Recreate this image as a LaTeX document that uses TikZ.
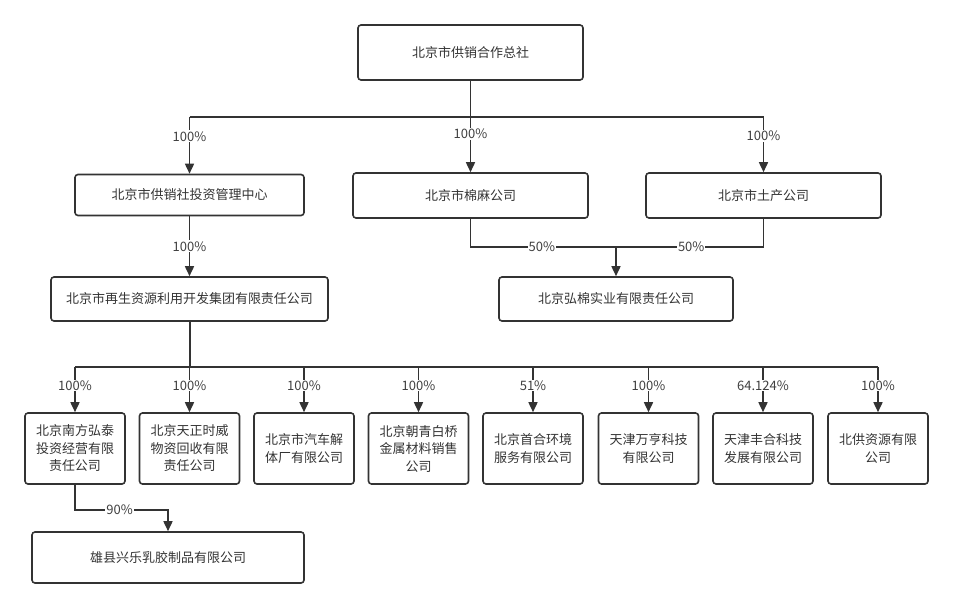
\documentclass[tikz,border=0pt]{standalone}
\usepackage{fontspec}
\setmainfont{Noto Sans CJK SC}
\usetikzlibrary{arrows.meta, positioning}

\begin{document}
\begin{tikzpicture}[x=1pt, y=-1pt,
    firm/.style={draw=black!80, line width=1.6pt, rounded corners=3pt, align=center,
        text=black!80, inner sep=0pt, font=\fontsize{13}{17.5}\selectfont},
    share/.style={fill=white, inner sep=1pt, text=black!75, font=\fontsize{13}{15}\selectfont},
    wire/.style={draw=black!80, line width=1.6pt},
    own/.style={wire, -{Triangle[length=10pt, width=9pt]}}
    ]
    \useasboundingbox (0,0) rectangle (953,608);

    \node[firm, minimum width=225pt, minimum height=55pt] (zongshe) at (470.5,52.5) {北京市供销合作总社};
    \node[firm, minimum width=229pt, minimum height=41pt] (touzi) at (189.5,195) {北京市供销社投资管理中心};
    \node[firm, minimum width=235pt, minimum height=45pt] (mianma) at (470.5,195.5) {北京市棉麻公司};
    \node[firm, minimum width=235pt, minimum height=45pt] (tuchan) at (763.5,195.5) {北京市土产公司};
    \node[firm, minimum width=277pt, minimum height=44pt] (zaisheng) at (189.5,299) {北京市再生资源利用开发集团有限责任公司};
    \node[firm, minimum width=234pt, minimum height=44pt] (hongmian) at (616,299) {北京弘棉实业有限责任公司};

    \node[firm, minimum width=100pt, minimum height=71pt] (nanfang) at (75,448.5) {北京南方弘泰\\投资经营有限\\责任公司};
    \node[firm, minimum width=100pt, minimum height=71pt] (tianzheng) at (189.5,448.5) {北京天正时威\\物资回收有限\\责任公司};
    \node[firm, minimum width=100pt, minimum height=71pt] (qiche) at (304,448.5) {北京市汽车解\\体厂有限公司};
    \node[firm, minimum width=100pt, minimum height=71pt] (chaoqing) at (418.5,448.5) {北京朝青白桥\\金属材料销售\\公司};
    \node[firm, minimum width=100pt, minimum height=71pt] (shouhe) at (533,448.5) {北京首合环境\\服务有限公司};
    \node[firm, minimum width=100pt, minimum height=71pt] (wanheng) at (648.5,448.5) {天津万亨科技\\有限公司};
    \node[firm, minimum width=100pt, minimum height=71pt] (fenghe) at (763,448.5) {天津丰合科技\\发展有限公司};
    \node[firm, minimum width=100pt, minimum height=71pt] (beigong) at (878,448.5) {北供资源有限\\公司};
    \node[firm, minimum width=272pt, minimum height=51pt] (xiongxian) at (168,557.5) {雄县兴乐乳胶制品有限公司};

    \coordinate (bus1) at (470.5,117);
    \coordinate (join) at (616,247);
    \coordinate (bus2) at (189.5,367);
    \coordinate (split) at (168,510);

    % top level
    \draw[wire] (touzi.north |- bus1) -- (tuchan.north |- bus1);
    \draw[own] (zongshe) -- node[share, pos=.58] {100\%} (mianma);
    \draw[own] (touzi.north |- bus1) -- node[share, pos=.34] {100\%} (touzi.north);
    \draw[own] (tuchan.north |- bus1) -- node[share, pos=.34] {100\%} (tuchan.north);
    \draw[own] (touzi) -- node[share] {100\%} (zaisheng);

    % joint venture
    \draw[wire] (mianma.south) |- node[share, pos=.745] {50\%} (join);
    \draw[wire] (tuchan.south) |- node[share, pos=.745] {50\%} (join);
    \draw[own] (join) -- (hongmian);

    % subsidiaries
    \draw[wire, line width=2pt] (zaisheng.south) -- (bus2);
    \draw[wire] (nanfang.north |- bus2) -- (beigong.north |- bus2);
    \draw[own] (nanfang.north |- bus2) -- node[share, pos=.41] {100\%} (nanfang.north);
    \draw[own] (tianzheng.north |- bus2) -- node[share, pos=.41] {100\%} (tianzheng.north);
    \draw[own] (qiche.north |- bus2) -- node[share, pos=.41] {100\%} (qiche.north);
    \draw[own] (chaoqing.north |- bus2) -- node[share, pos=.41] {100\%} (chaoqing.north);
    \draw[own] (shouhe.north |- bus2) -- node[share, pos=.41] {51\%} (shouhe.north);
    \draw[own] (wanheng.north |- bus2) -- node[share, pos=.41] {100\%} (wanheng.north);
    \draw[own] (fenghe.north |- bus2) -- node[share, pos=.41] {64.124\%} (fenghe.north);
    \draw[own] (beigong.north |- bus2) -- node[share, pos=.41] {100\%} (beigong.north);

    \draw[own] (nanfang.south) |- node[share, pos=.74] {90\%} (split) -- (xiongxian.north);
    % \draw[wire] (nanfang.south) -- (xiongxian);
\end{tikzpicture}
\end{document}
